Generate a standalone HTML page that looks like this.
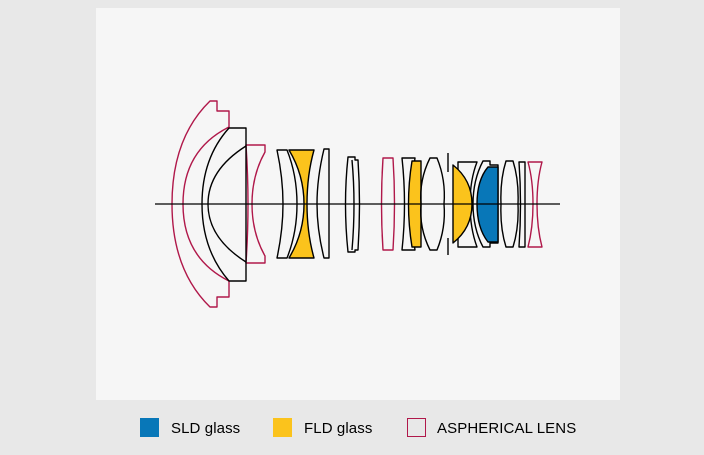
<!DOCTYPE html>
<html><head><meta charset="utf-8"><style>
body{margin:0;background:#e8e8e8;width:704px;height:455px;overflow:hidden;font-family:"Liberation Sans",sans-serif}
.panel{position:absolute;left:96px;top:8px;width:524px;height:392px;background:#f6f6f6}
.sq{position:absolute;top:418px;width:19px;height:19px}
.t{position:absolute;top:419px;font-size:15px;line-height:20px;color:#000;letter-spacing:0.1px}
</style></head><body>
<div class="panel"></div>
<svg width="704" height="455" style="position:absolute;left:0;top:0" fill="none" stroke-width="1.4" stroke-linejoin="round">
<g stroke="#b0184a">
<path d="M210,101 L217,101 L217,111 L229,111 L229,127 Q183,150 183,204 Q183,258 229,281 L229,297 L217,297 L217,307 L210,307 Q172,270 172,204 Q172,138 210,101 Z"/>
<path d="M246,145 L265,145 L265,152 Q252,175 252,204 Q252,233 265,256 L265,263 L246,263 Q248,233 248,204 Q248,175 246,145 Z"/>
<path d="M383,158 L393,158 Q396,204 393,250 L383,250 Q380,204 383,158 Z"/>
<path d="M528,162 L542,162 Q537,180 537,204 Q537,228 542,247 L528,247 Q533,228 533,204 Q533,180 528,162 Z"/>
</g>
<g stroke="#000">
<path d="M229,128 L246,128 L246,281 L229,281 Q202,250 202,204 Q202,158 229,128 Z"/>
<path d="M246,146 Q208,170 208,204 Q208,238 246,262"/>
<path d="M277,150 L287,150 Q297,175 297,204 Q297,233 287,258 L277,258 Q283,230 283,204 Q283,178 277,150 Z"/>
<path d="M289,150 L314,150 Q307,175 307,204 Q307,233 314,258 L289,258 Q304,233 304,204 Q304,175 289,150 Z" fill="#fbc31c"/>
<path d="M324,149 L329,149 L329,258 L324,258 Q317,230 317,204 Q317,178 324,149 Z"/>
<path d="M348,157 L355,157 L355,160 L358,160 Q361,204 358,250 L355,250 L355,252 L348,252 Q343,204 348,157 Z"/>
<path d="M352,160 Q356,204 352,250"/>
<path d="M402,158 L415,158 Q408,204 415,250 L402,250 Q407,204 402,158 Z"/>
<path d="M412,161 L421,161 L421,247 L412,247 Q405,204 412,161 Z" fill="#fbc31c"/>
<path d="M430,158 L437,158 Q446,180 444,204 Q446,228 437,250 L430,250 Q419,228 421,204 Q419,180 430,158 Z"/>
<path d="M448,153 L448,172 M448,238 L448,255"/>
<path d="M458,162 L477,162 Q470,180 470,204 Q470,228 477,247 L458,247 Z"/>
<path d="M453,165 Q472,180 472,204 Q472,228 453,243 Z" fill="#fbc31c"/>
<path d="M483,161 L490,161 L490,165 L498,165 L498,243 L490,243 L490,247 L483,247 Q473,228 473,204 Q473,180 483,161 Z"/>
<path d="M488,167 L498,167 L498,242 L488,242 Q477,228 477,204 Q477,180 488,167 Z" fill="#0877b8"/>
<path d="M506,161 L513,161 Q519,180 518,204 Q519,228 513,247 L506,247 Q500,228 501,204 Q500,180 506,161 Z"/>
<path d="M519,162 L525,162 L525,247 L519,247 Q522,204 519,162 Z"/>
<path d="M155,204 L560,204" stroke-width="1.3"/>
</g>
</svg>
<div class="sq" style="left:140px;background:#0877b8"></div>
<div class="t" style="left:171px">SLD glass</div>
<div class="sq" style="left:273px;background:#fbc31c"></div>
<div class="t" style="left:304px">FLD glass</div>
<div class="sq" style="left:407px;width:17px;height:17px;border:1px solid #b0184a"></div>
<div class="t" style="left:437px">ASPHERICAL LENS</div>
</body></html>
